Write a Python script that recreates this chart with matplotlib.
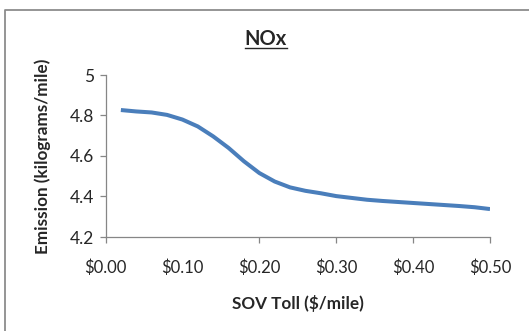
"""NOx emission rate versus SOV toll."""

import matplotlib

matplotlib.use("Agg")
import matplotlib.pyplot as plt
from matplotlib.lines import Line2D

plt.rcParams["font.family"] = ["Lato", "DejaVu Sans"]

toll = [0.02, 0.04, 0.06, 0.08, 0.10, 0.12, 0.14, 0.16, 0.18, 0.20, 0.22, 0.24, 0.26,
        0.28, 0.30, 0.32, 0.34, 0.36, 0.38, 0.40, 0.42, 0.44, 0.46, 0.48, 0.50]
emission = [4.827, 4.820, 4.815, 4.803, 4.780, 4.746, 4.697, 4.640, 4.574, 4.516, 4.474,
            4.445, 4.428, 4.416, 4.402, 4.393, 4.384, 4.378, 4.373, 4.368, 4.363, 4.358,
            4.353, 4.347, 4.338]

x_ticks = [0.0, 0.1, 0.2, 0.3, 0.4, 0.5]
x_labels = ["$0.00", "$0.10", "$0.20", "$0.30", "$0.40", "$0.50"]
y_ticks = [4.2, 4.4, 4.6, 4.8, 5.0]
y_labels = ["4.2", "4.4", "4.6", "4.8", "5"]

axis_grey = "#868686"
text_dark = "#262626"

fig = plt.figure(figsize=(5.29, 3.31), dpi=100)
ax = fig.add_axes([105.5 / 529, 1 - 237 / 331, (490 - 105.5) / 529, (237 - 75) / 331])

ax.plot(toll, emission, color="#4a7ebb", linewidth=2.9, solid_capstyle="butt",
        solid_joinstyle="round")

ax.set_xlim(0, 0.5)
ax.set_ylim(4.2, 5.0)
ax.set_xticks(x_ticks)
ax.set_xticklabels(x_labels, fontsize=12, color=text_dark)
ax.set_yticks(y_ticks)
ax.set_yticklabels(y_labels, fontsize=12.5, color=text_dark)

for side in ("top", "right"):
    ax.spines[side].set_visible(False)
for side in ("left", "bottom"):
    ax.spines[side].set_color(axis_grey)
    ax.spines[side].set_linewidth(0.9)

ax.tick_params(axis="x", direction="out", length=4, width=0.9, color=axis_grey, pad=12)
ax.tick_params(axis="y", direction="out", length=4, width=0.9, color=axis_grey, pad=4)
# the $0.10 tick has no mark
ax.xaxis.get_major_ticks()[1].tick1line.set_visible(False)

ax.set_xlabel("SOV Toll ($/mile)", fontsize=12.3, fontweight="bold", color=text_dark,
              labelpad=14)
ax.set_ylabel("Emission (kilograms/mile)", fontsize=12.3, fontweight="bold", color=text_dark,
              labelpad=14)

title = fig.text(266 / 529, 1 - 39 / 331, "NOx", ha="center", va="center",
                 fontsize=14.5, fontweight="bold", color=text_dark)

# underline under the title
fig.canvas.draw()
bb = title.get_window_extent().transformed(fig.transFigure.inverted())
fig.add_artist(Line2D([bb.x0, bb.x1], [bb.y0 + 0.004, bb.y0 + 0.004],
                      transform=fig.transFigure, color=text_dark, linewidth=1.0))

# chart-area frame (only top and left edges fall inside the image)
fig.add_artist(Line2D([4.5 / 529, 4.5 / 529, 1.0], [0.0, 1 - 9.5 / 331, 1 - 9.5 / 331],
                      transform=fig.transFigure, color="#8c8c8c", linewidth=1.3))

fig.savefig("out.png", dpi=100)
